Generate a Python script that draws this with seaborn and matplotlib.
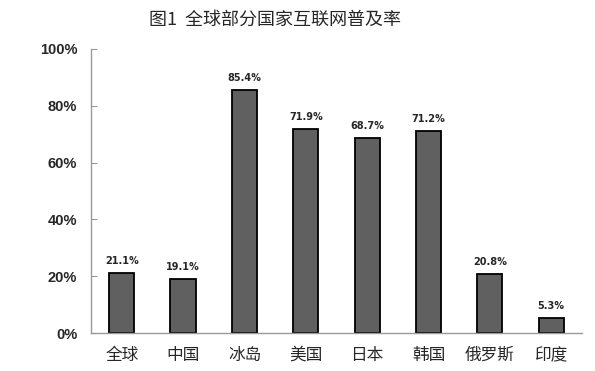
import numpy as np
import pandas as pd
import matplotlib
matplotlib.use('Agg')
import matplotlib.pyplot as plt
from matplotlib.ticker import FuncFormatter
import seaborn as sns

categories = ['全球', '中国', '冰岛', '美国', '日本', '韩国', '俄罗斯', '印度']
rates = [21.1, 19.1, 85.4, 71.9, 68.7, 71.2, 20.8, 5.3]

sns.set_style('white')
plt.rcParams['font.family'] = ['Noto Sans CJK SC', 'DejaVu Sans']

df = pd.DataFrame({'country': categories, 'rate': rates})

fig = plt.figure(figsize=(5.95, 3.71), dpi=100)
ax = fig.add_axes([0.153, 0.102, 0.825, 0.766])
sns.barplot(data=df, x='country', y='rate', color='#606060', width=0.41,
            edgecolor='black', linewidth=1.3, saturation=1, ax=ax)

ax.set_ylim(0, 100)
ax.set_xlim(-0.5, len(categories) - 0.5)
ax.set_yticks(np.arange(0, 101, 20))
ax.yaxis.set_major_formatter(FuncFormatter(lambda v, p: '{:.0f}%'.format(v)))
ax.set_xlabel('')
ax.set_ylabel('')

for lbl in ax.get_yticklabels():
    lbl.set_fontweight('bold')
    lbl.set_fontsize(10.5)
    lbl.set_family(['Liberation Sans'])
for lbl in ax.get_xticklabels():
    lbl.set_fontsize(12)

# tick marks between categories on x
ax.set_xticks(np.arange(-0.5, len(categories), 1), minor=True)
ax.tick_params(axis='x', which='major', length=0, pad=10)
ax.tick_params(axis='x', which='minor', length=4, color='#999999', direction='in')
ax.tick_params(axis='y', length=4, color='#999999', direction='in', left=True, pad=10)

for s in ['top', 'right']:
    ax.spines[s].set_visible(False)
for s in ['left', 'bottom']:
    ax.spines[s].set_color('#999999')
    ax.spines[s].set_linewidth(1)

for i, v in enumerate(rates):
    ax.text(i, v + 2.5, '{:.1f}%'.format(v), ha='center', va='bottom',
            fontsize=7, fontweight='bold', family=['DejaVu Sans'])

fig.text(0.462, 0.948, '图1  全球部分国家互联网普及率', ha='center', va='center',
         fontsize=13)

fig.savefig('out.png', dpi=100)
